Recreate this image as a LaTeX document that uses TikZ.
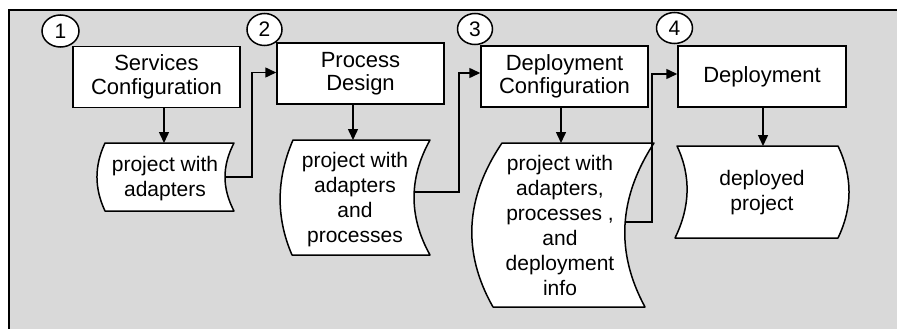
\documentclass[tikz,border=0pt]{standalone}
\usepackage{fontspec}
\setmainfont{Liberation Sans}
\usetikzlibrary{shapes.geometric,arrows.meta,calc}
\definecolor{bggray}{RGB}{217,217,217}
\newcommand\bxfont{\fontsize{22}{23.5}\selectfont}
\newcommand\dcfont{\fontsize{21}{25}\selectfont}
\newcommand\nmfont{\fontsize{21}{22}\selectfont}
\tikzset{
  stepbox/.style={draw, fill=white, line width=1.5pt, minimum width=167pt, minimum height=61pt, align=center, font=\bxfont, inner sep=0pt},
  numcirc/.style={draw, fill=white, ellipse, line width=1.5pt, minimum width=36pt, minimum height=32pt, inner sep=0pt, font=\nmfont},
  doctext/.style={align=center, font=\dcfont, inner sep=0pt},
  docshape/.style={draw, fill=white, line width=1.5pt, line join=round},
  arr/.style={-{Triangle[length=11pt,width=10pt]}, line width=1.5pt},
}
\begin{document}
\begin{tikzpicture}[x=1pt,y=-1pt]
\useasboundingbox (0,0) rectangle (897,329);
\clip (0,0) rectangle (897,329);
% background panel
\fill[bggray] (9,10) rectangle (905,340);
\draw[line width=1.5pt] (9,340) -- (9,10) -- (905,10);

% step numbers
\node[numcirc, minimum width=37pt] (c1) at (60.5,31) {1};
\node[numcirc, minimum width=35pt] (c2) at (264.5,29.5) {2};
\node[numcirc, minimum width=35pt, minimum height=31pt] (c3) at (475,29) {3};
\node[numcirc, minimum height=31pt] (c4) at (674.5,28) {4};

% step boxes
\node[stepbox] (b1) at (156.5,77) {Services\\Configuration};
\node[stepbox] (b2) at (360.5,73.5) {Process\\Design};
\node[stepbox] (b3) at (564.5,76.5) {Deployment\\Configuration};
\node[stepbox, minimum width=168pt] (b4) at (762,76.5) {Deployment};

% document shapes
\draw[docshape] (105,143) -- (234,143) .. controls (222,166) and (222,188) .. (234,211)
  -- (105,211) .. controls (94.3,188) and (94.3,166) .. cycle;
\draw[docshape] (293,140) -- (430,140) .. controls (408.7,178.3) and (408.7,216.7) .. (430,255)
  -- (292,255) .. controls (275.5,216.7) and (276.5,178.3) .. cycle;
\draw[docshape] (502,143) -- (654,143) .. controls (618.3,197.7) and (615.3,252.3) .. (645,307)
  -- (493,307) .. controls (462,252.3) and (465,197.7) .. cycle;
\draw[docshape] (677,146) -- (838,146) .. controls (852.7,176.7) and (852.7,207.3) .. (838,238)
  -- (675,238) .. controls (690,207.3) and (691.5,176.7) .. cycle;

% document texts
\node[doctext] (d1) at (165,178.5) {project with\\adapters};
\node[doctext] (d2) at (355,199.5) {project with\\adapters\\and\\processes};
\node[doctext] (d3) at (560,225) {project with\\adapters,\\processes ,\\and\\deployment\\info};
\node[doctext] (d4) at (762,192.5) {deployed\\project};

% connector end points on the document shapes
\coordinate (d1t) at (164,143);
\coordinate (d2t) at (353,140);
\coordinate (d3t) at (561,143);
\coordinate (d4t) at (763,146);
\coordinate (d1o) at (225,177);
\coordinate (d2o) at (414,192);
\coordinate (d3o) at (625,222);

% connectors
\draw[arr] (b1.south -| d1t) -- (d1t);
\draw[arr] (b2.south -| d2t) -- (d2t);
\draw[arr] (b3.south -| d3t) -- (d3t);
\draw[arr] (b4.south -| d4t) -- (d4t);
\draw[arr] (d1o) -- ++(27,0) |- ([yshift=1pt]b2.west);
\draw[arr] (d2o) -- ++(45,0) |- ([yshift=3.5pt]b3.west);
\draw[arr] (d3o) -- ++(27,0) |- ([yshift=2.5pt]b4.west);
\end{tikzpicture}
\end{document}
